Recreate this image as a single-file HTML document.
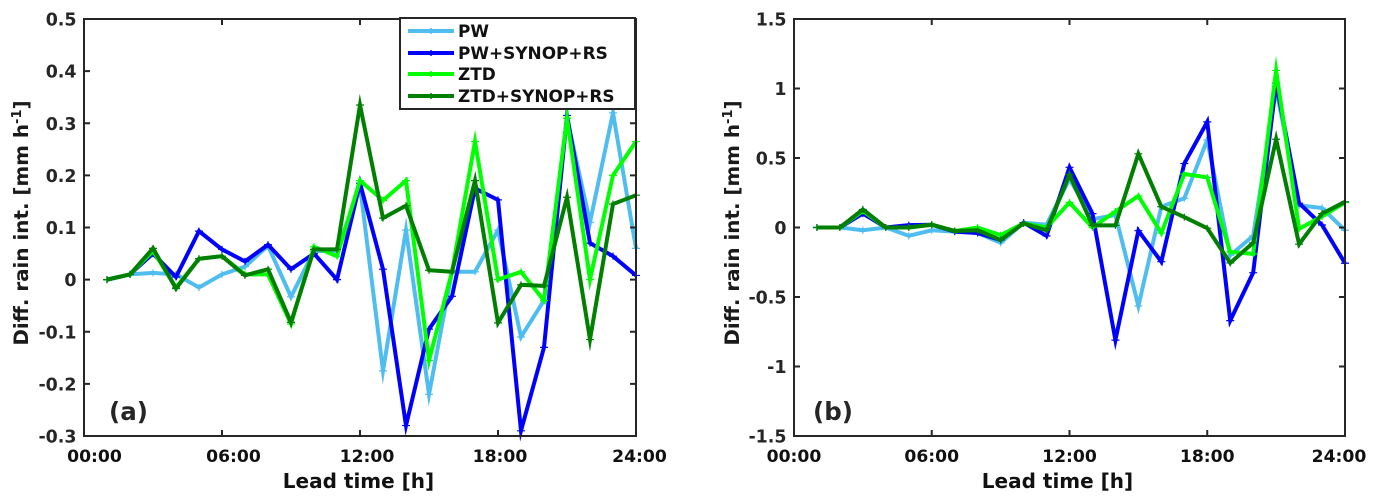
<!DOCTYPE html>
<html>
<head>
<meta charset="utf-8">
<title>Diff. rain intensity vs lead time</title>
<style>
html,body{margin:0;padding:0;background:#fff;}
svg{display:block;}
text{font-family:"DejaVu Sans","Liberation Sans",sans-serif;font-weight:bold;}
</style>
</head>
<body>
<svg id="fig" xmlns="http://www.w3.org/2000/svg" width="1377" height="503" viewBox="0 0 1377 503">
  <rect width="1377" height="503" fill="#fff"/>
  <g id="panel-a"></g>
  <g id="panel-b"></g>
  <text transform="translate(28,223) rotate(-90)" text-anchor="middle" font-size="19.9" fill="#1a1a1a">Diff. rain int. [mm h<tspan font-size="13" dy="-7">-1</tspan><tspan dy="7">]</tspan></text>
  <text transform="translate(739,223) rotate(-90)" text-anchor="middle" font-size="19.9" fill="#1a1a1a">Diff. rain int. [mm h<tspan font-size="13" dy="-7">-1</tspan><tspan dy="7">]</tspan></text>
  <text x="358.5" y="488" text-anchor="middle" font-size="20" fill="#111">Lead time [h]</text>
  <text x="1057.5" y="488" text-anchor="middle" font-size="20" fill="#111">Lead time [h]</text>
  <text x="109" y="420" font-size="24.5" fill="#262626">(a)</text>
  <text x="813" y="420" font-size="24.5" fill="#262626">(b)</text>
  <g id="legend">
    <rect x="400" y="18" width="235" height="91" fill="#fff" stroke="#262626" stroke-width="2"/>
    <path d="M408 31H454" stroke="#4FBDEF" stroke-width="4" fill="none"/>
    <path d="M431 28V34" stroke="#4FBDEF" stroke-width="1.5" fill="none"/>
    <text x="458" y="37" font-size="16.9" fill="#111">PW</text>
    <path d="M408 53H454" stroke="#0000FF" stroke-width="4" fill="none"/>
    <path d="M431 50V56" stroke="#0000FF" stroke-width="1.5" fill="none"/>
    <text x="458" y="59" font-size="16.9" fill="#111">PW+SYNOP+RS</text>
    <path d="M408 74H454" stroke="#00FF00" stroke-width="4" fill="none"/>
    <path d="M431 71V77" stroke="#00FF00" stroke-width="1.5" fill="none"/>
    <text x="458" y="80" font-size="16.9" fill="#111">ZTD</text>
    <path d="M408 96H454" stroke="#007F00" stroke-width="4" fill="none"/>
    <path d="M431 93V99" stroke="#007F00" stroke-width="1.5" fill="none"/>
    <text x="458" y="102" font-size="16.9" fill="#111">ZTD+SYNOP+RS</text>
  </g>
</svg>
<script>
var hours = [1,2,3,4,5,6,7,8,9,10,11,12,13,14,15,16,17,18,19,20,21,22,23,24];
var xTickHours = [0,6,12,18,24];
var xTickLabels = ['00:00','06:00','12:00','18:00','24:00'];
var aYTicks = [-0.3,-0.2,-0.1,0,0.1,0.2,0.3,0.4,0.5];
var aYTickLabels = ['-0.3','-0.2','-0.1','0','0.1','0.2','0.3','0.4','0.5'];
var bYTicks = [-1.5,-1,-0.5,0,0.5,1,1.5];
var bYTickLabels = ['-1.5','-1','-0.5','0','0.5','1','1.5'];

var aPW = [0,0.01,0.013,0.01,-0.015,0.01,0.025,0.065,-0.033,0.055,0.055,0.18,-0.175,0.095,-0.22,0.015,0.015,0.095,-0.11,-0.04,0.31,0.11,0.32,0.06];
var aPWSR = [0,0.01,0.05,0.005,0.093,0.058,0.035,0.067,0.02,0.05,0,0.185,0.02,-0.28,-0.095,-0.032,0.175,0.153,-0.29,-0.13,0.315,0.07,0.045,0.008];
var aZTD = [0,0.01,0.055,-0.015,0.04,0.045,0.01,0.01,-0.085,0.063,0.045,0.19,0.152,0.19,-0.155,0.015,0.265,0,0.015,-0.04,0.31,0,0.2,0.265];
var aZTDSR = [0,0.01,0.06,-0.017,0.04,0.045,0.008,0.02,-0.082,0.058,0.058,0.335,0.118,0.142,0.018,0.015,0.19,-0.083,-0.01,-0.012,0.158,-0.115,0.145,0.162];

var bPW = [0,0,-0.02,0,-0.06,-0.02,-0.03,-0.04,-0.11,0.035,0.02,0.35,0.06,0.09,-0.565,0.15,0.21,0.63,-0.2,-0.06,1,0.16,0.14,-0.02];
var bPWSR = [0,0,0.1,0,0.017,0.02,-0.03,-0.04,-0.09,0.035,-0.06,0.433,0.1,-0.81,-0.023,-0.246,0.46,0.76,-0.67,-0.325,1.04,0.175,0.018,-0.257];
var bZTD = [0,0,0.12,0,0,0.02,-0.025,0,-0.055,0.03,0,0.18,0,0.115,0.227,-0.04,0.385,0.36,-0.175,-0.19,1.13,-0.01,0.08,0.18];
var bZTDSR = [0,0,0.13,0,0,0.02,-0.025,-0.02,-0.09,0.03,-0.02,0.38,0.015,0.015,0.53,0.15,0.075,-0.005,-0.255,-0.11,0.635,-0.12,0.1,0.185];

var seriesNames = ['pw','pw-synop-rs','ztd','ztd-synop-rs'];
var seriesColors = ['#4FBDEF','#0000FF','#00FF00','#007F00'];

var NS = 'http://www.w3.org/2000/svg';
var AXIS = '#262626';

function mk(parent, tag, attrs) {
  var el = document.createElementNS(NS, tag);
  for (var k in attrs) el.setAttribute(k, attrs[k]);
  parent.appendChild(el);
  return el;
}

function drawPanel(id, box, yMin, yMax, yTicks, yLabels, seriesList) {
  var g = document.getElementById(id);
  function xs(h) { return box.l + (box.r - box.l) * h / 24; }
  function ys(v) { return box.b - (box.b - box.t) * (v - yMin) / (yMax - yMin); }

  seriesList.forEach(function (vals, si) {
    var pts = hours.map(function (h, i) { return xs(h) + ',' + ys(vals[i]); }).join(' ');
    var line = mk(g, 'polyline', {points: pts, fill: 'none', stroke: seriesColors[si], 'stroke-width': 4, 'stroke-linejoin': 'miter', 'stroke-miterlimit': 20});
    
    
    hours.forEach(function (h, i) {
      var x = xs(h), y = ys(vals[i]);
      var d = 'M' + x + ' ' + (y - 3.5) + 'V' + (y + 3.5) + 'M' + (x - 4) + ' ' + y + 'H' + (x + 4);
      var m = mk(g, 'path', {d: d, fill: 'none', stroke: seriesColors[si], 'stroke-width': 1.2});
      
      
    });
  });

  var frame = mk(g, 'rect', {x: box.l, y: box.t, width: box.r - box.l, height: box.b - box.t, fill: 'none', stroke: AXIS, 'stroke-width': 2});
  
  

  xTickHours.forEach(function (h, i) {
    var x = xs(h);
    var t1 = mk(g, 'line', {x1: x, x2: x, y1: box.b, y2: box.b - 6, stroke: AXIS, 'stroke-width': 2});
    
    
    var t2 = mk(g, 'line', {x1: x, x2: x, y1: box.t, y2: box.t + 6, stroke: AXIS, 'stroke-width': 2});
    
    
    var lab = mk(g, 'text', {x: x + box.labelNudge[i], y: box.b + 26, 'text-anchor': 'middle', 'font-size': 17.2, fill: '#111'});
    
    
    lab.textContent = xTickLabels[i];
  });

  yTicks.forEach(function (v, i) {
    var y = ys(v);
    var t1 = mk(g, 'line', {x1: box.l, x2: box.l + 6, y1: y, y2: y, stroke: AXIS, 'stroke-width': 2});
    
    
    var t2 = mk(g, 'line', {x1: box.r, x2: box.r - 6, y1: y, y2: y, stroke: AXIS, 'stroke-width': 2});
    
    
    var lab = mk(g, 'text', {x: box.l - 7.5, y: y + 6.5, 'text-anchor': 'end', 'font-size': 17.4, fill: AXIS});
    
    
    lab.textContent = yLabels[i];
  });
}

drawPanel('panel-a', {l: 84, r: 636, t: 19, b: 436, labelNudge: [10.5, 11.5, 7, 2, 3.5]}, -0.3, 0.5, aYTicks, aYTickLabels, [aPW, aPWSR, aZTD, aZTDSR]);
drawPanel('panel-b', {l: 794, r: 1345, t: 19, b: 436, labelNudge: [0, 0, 0, 0, -6]}, -1.5, 1.5, bYTicks, bYTickLabels, [bPW, bPWSR, bZTD, bZTDSR]);
</script>
</body>
</html>
